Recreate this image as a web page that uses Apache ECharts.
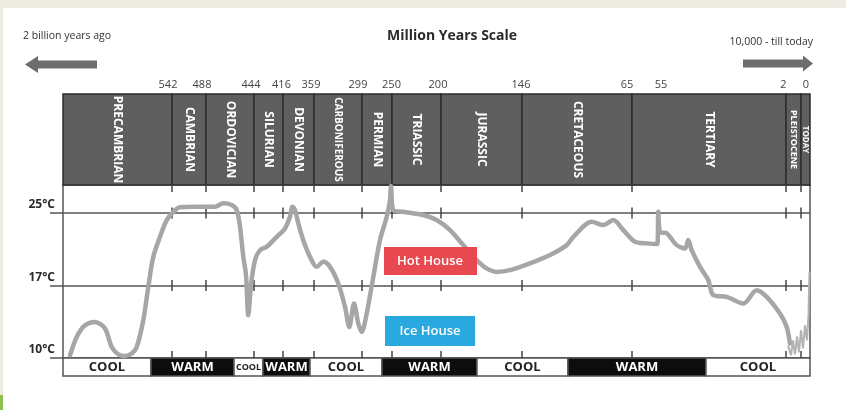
<!DOCTYPE html>
<html><head><meta charset="utf-8">
<script src="https://cdn.jsdelivr.net/npm/echarts@6/dist/echarts.min.js"></script>
<style>html,body{margin:0;padding:0;background:#edebe2}#c{width:846px;height:410px}</style>
</head><body><div id="c"></div><script>
// ---- data (x = position along the timeline strip, 0 = left edge, 747 = right edge) ----
const periodNames = ['PRECAMBRIAN','CAMBRIAN','ORDOVICIAN','SILURIAN','DEVONIAN','CARBONIFEROUS','PERMIAN','TRIASSIC','JURASSIC','CRETACEOUS','TERTIARY','PLEISTOCENE','TODAY'];
const periodStart = [0,109,143,191,220,251,299,329,378,459,569,723,738];
const periodEnd   = [109,143,191,220,251,299,329,378,459,569,723,738,747];
const boundaryPos = [109,143,191,220,251,299,329,378,459,569,723,738];

const climateNames = ['COOL','WARM','COOL','WARM','COOL','WARM','COOL','WARM','COOL'];
const climateStart = [0,88,171,200,247,319,414,505,643];
const climateEnd   = [88,171,200,247,319,414,505,643,747];

const ageTickPos    = [105,139,188,218.5,248,295,328.5,375,458,564,598,720.5,743];
const ageTickLabels = ['542','488','444','416','359','299','250','200','146','65','55','2','0'];

const tempTickValues = [10,17.5,25];
const tempTickLabels = ['10°C','17°C','25°C'];

const tempX = [7,13.7,22,32,42,48.7,55.3,62,68.7,73.7,80.3,85.3,90.3,97,103.7,110.3,117,132,152,160.3,168.7,173.7,177,180.3,183,185.3,188,192,197,203.7,213.7,222,227,229.5,232,235.3,240.3,247,253.7,260.3,267,275.3,282,286.3,291,295.3,298.7,303.7,310.3,317,323.7,327,328,330.3,340.3,360.3,373.7,387,400.3,413.7,423.7,433.7,447,467,487,503.7,510.3,528.7,540.3,550.3,560.3,572,583.7,594.3,595.3,597,603.7,613.7,622,625.3,628.7,637,645.3,650.3,663.7,680.3,693.7,703.7,717,723.7,727];
const tempY = [10.28,12.18,13.39,13.73,13.05,11.14,10.38,10.2,10.46,11.14,13.91,17.36,20.47,22.54,24.27,25.13,25.59,25.65,25.65,26.0,25.83,25.31,23.58,20.47,18.57,14.42,17.54,20.13,21.16,21.51,22.54,23.41,24.62,25.65,25.31,23.93,22.19,20.47,19.43,19.95,19.43,17.71,15.29,13.21,15.64,13.57,12.7,14.6,18.4,22.2,24.62,26.35,27.8,25.31,25.13,24.79,24.27,23.23,21.68,20.13,19.27,18.91,19.09,19.79,20.65,21.68,22.54,24.1,23.76,24.27,23.23,22.02,21.86,21.79,25.13,23.06,22.9,21.68,21.34,22.2,21.16,19.43,18.05,16.5,16.32,15.64,17.02,16.32,14.6,13.21,11.49];
const recentX = [725,728,730,732,734,736,738,740,742,744,745.5,746,746.5];
const recentY = [11.3,10.28,11.83,10.38,12.24,10.59,12.87,11.0,13.39,11.83,14.42,17.02,18.88];

const FONT = '"Open Sans", "Liberation Sans", sans-serif';
const chart = echarts.init(document.getElementById('c'));

const option = {
  backgroundColor: '#edebe2',
  animation: false,
  grid: [
    {left: 63, right: 36, top: 94, height: 91},
    {left: 63, right: 36, top: 185, height: 173, show: true, borderColor: '#555', borderWidth: 1.5},
    {left: 63, right: 36, top: 358, height: 18}
  ],
  xAxis: [
    {gridIndex: 0, type: 'value', min: 0, max: 747, position: 'top',
      axisLine: {show: false}, axisTick: {show: false}, splitLine: {show: false},
      axisLabel: {customValues: ageTickPos, margin: 4, fontSize: 11, color: '#444', fontFamily: FONT,
        formatter: v => { const i = ageTickPos.indexOf(v); return i >= 0 ? ageTickLabels[i] : ''; }}},
    {gridIndex: 1, type: 'value', min: 0, max: 747, show: false},
    {gridIndex: 2, type: 'value', min: 0, max: 747, show: false}
  ],
  yAxis: [
    {gridIndex: 0, type: 'value', min: 0, max: 1, show: false},
    {gridIndex: 1, type: 'value', min: 10, max: 27.9, interval: 7.5,
      axisLine: {show: false},
      axisTick: {show: true, length: 13, customValues: tempTickValues, lineStyle: {color: '#555', width: 1.5}},
      axisLabel: {customValues: tempTickValues, verticalAlign: 'bottom', margin: 8, padding: [0,0,2,0],
        fontSize: 12, fontWeight: 'bold', color: '#2a2a2a', fontFamily: FONT,
        formatter: v => { const i = tempTickValues.indexOf(v); return i >= 0 ? tempTickLabels[i] : ''; }},
      splitLine: {show: true, lineStyle: {color: '#555', width: 1.5}}},
    {gridIndex: 2, type: 'value', min: 0, max: 1, show: false}
  ],
  graphic: [
    {type: 'rect', shape: {x: 3, y: 8, width: 843, height: 402}, style: {fill: '#ffffff'}, z: -10},
    {type: 'rect', shape: {x: 0, y: 395, width: 3, height: 15}, style: {fill: '#8cc152'}, z: -10},
    {type: 'text', x: 452, y: 36, style: {text: 'Million Years Scale', font: 'bold 14px ' + FONT, fill: '#2a2a2a', align: 'center', verticalAlign: 'middle'}},
    {type: 'text', x: 23, y: 36, style: {text: '2 billion years ago', font: '10.5px ' + FONT, fill: '#333', align: 'left', verticalAlign: 'middle'}},
    {type: 'text', x: 813, y: 42, style: {text: '10,000 - till today', font: '10.5px ' + FONT, fill: '#333', align: 'right', verticalAlign: 'middle'}},
    {type: 'polygon', shape: {points: [[25,64.5],[38,56],[38,60.5],[97,60.5],[97,68.5],[38,68.5],[38,73]]}, style: {fill: '#6d6d6d'}},
    {type: 'polygon', shape: {points: [[813,63.5],[803,55.5],[803,59.5],[743,59.5],[743,67.5],[803,67.5],[803,71.5]]}, style: {fill: '#6d6d6d'}},
    {type: 'rect', shape: {x: 384, y: 247, width: 93, height: 28}, style: {fill: '#e8484f'}, z: 50},
    {type: 'text', x: 430, y: 261, style: {text: 'Hot House', font: '600 13px ' + FONT, fill: '#fff', align: 'center', verticalAlign: 'middle'}, z: 51},
    {type: 'rect', shape: {x: 385, y: 316, width: 90, height: 30}, style: {fill: '#2aa8e0'}, z: 50},
    {type: 'text', x: 430, y: 331, style: {text: 'Ice House', font: '600 13px ' + FONT, fill: '#fff', align: 'center', verticalAlign: 'middle'}, z: 51}
  ],
  series: [
    {type: 'custom', xAxisIndex: 0, yAxisIndex: 0,
      data: periodStart.map((s, i) => [s, periodEnd[i]]),
      encode: {x: [0, 1]},
      renderItem: (params, api) => {
        const p0 = api.coord([api.value(0), 1]), p1 = api.coord([api.value(1), 0]);
        const w = p1[0] - p0[0], h = p1[1] - p0[1];
        const name = periodNames[params.dataIndex];
        const fs = w < 12 ? 8 : w < 20 ? 9 : name.length > 11 ? 10 : 12;
        return {type: 'group', children: [
          {type: 'rect', shape: {x: p0[0], y: p0[1], width: w, height: h}, style: {fill: '#5f5f5f', stroke: '#2e2e2e', lineWidth: 1.5}},
          {type: 'text', x: p0[0] + w / 2, y: p0[1] + h / 2, rotation: -Math.PI / 2,
            style: {text: name, fill: '#fff', font: 'bold ' + fs + 'px ' + FONT, align: 'center', verticalAlign: 'middle'}}
        ]};
      }},
    {type: 'custom', xAxisIndex: 1, yAxisIndex: 1, z: 3,
      data: boundaryPos.map(b => [b, 25]),
      renderItem: (params, api) => {
        const x = api.coord([api.value(0), 25])[0];
        const yTop = api.coord([0, 27.9])[1], yBot = api.coord([0, tempTickValues[0]])[1];
        const y17 = api.coord([0, tempTickValues[1]])[1], y25 = api.coord([0, tempTickValues[2]])[1];
        const seg = (a, b) => ({type: 'line', shape: {x1: x, y1: a, x2: x, y2: b}, style: {stroke: '#444', lineWidth: 1.5}});
        return {type: 'group', children: [seg(yTop, yTop + 7), seg(y25 - 5.5, y25 + 5.5), seg(y17 - 5.5, y17 + 5.5), seg(yBot - 7, yBot)]};
      }},
    {type: 'line', xAxisIndex: 1, yAxisIndex: 1, z: 5, symbol: 'none', smooth: 0.3,
      data: tempX.map((x, i) => [x, tempY[i]]),
      lineStyle: {color: '#a6a6a6', width: 4.5, cap: 'round', join: 'round'}},
    {type: 'line', xAxisIndex: 1, yAxisIndex: 1, z: 5, symbol: 'none',
      data: recentX.map((x, i) => [x, recentY[i]]),
      lineStyle: {color: '#b3b3b3', width: 2}},
    {type: 'custom', xAxisIndex: 2, yAxisIndex: 2,
      data: climateStart.map((s, i) => [s, climateEnd[i]]),
      encode: {x: [0, 1]},
      renderItem: (params, api) => {
        const p0 = api.coord([api.value(0), 1]), p1 = api.coord([api.value(1), 0]);
        const w = p1[0] - p0[0], h = p1[1] - p0[1];
        const name = climateNames[params.dataIndex];
        const warm = name === 'WARM';
        const fs = w < 40 ? 9 : 13;
        return {type: 'group', children: [
          {type: 'rect', shape: {x: p0[0], y: p0[1], width: w, height: h}, style: {fill: warm ? '#0d0d0d' : '#ffffff', stroke: '#555', lineWidth: 1.5}},
          {type: 'text', x: p0[0] + w / 2, y: p0[1] + h / 2 + 0.5,
            style: {text: name, fill: warm ? '#fff' : '#222', font: 'bold ' + fs + 'px ' + FONT, align: 'center', verticalAlign: 'middle'}}
        ]};
      }}
  ]
};
chart.setOption(option);
</script></body></html>
